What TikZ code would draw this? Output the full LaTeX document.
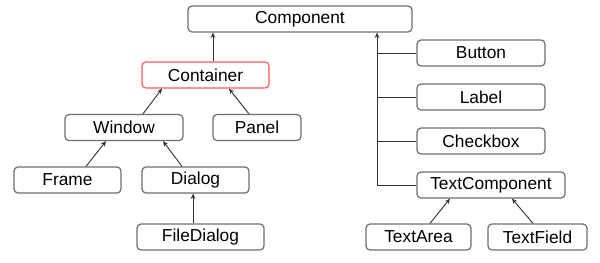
\documentclass[tikz,border=0pt]{standalone}
\usepackage{fontspec}
\setmainfont{Liberation Sans}
\usetikzlibrary{arrows.meta}
\definecolor{boxline}{HTML}{6E6E6E}
\definecolor{conline}{HTML}{333333}
\definecolor{redline}{HTML}{FF5A5A}
\begin{document}
\begin{tikzpicture}[x=0.75pt,y=-0.75pt,
  cls/.style={draw=boxline,line width=0.9pt,rounded corners=3pt,fill=white,
    minimum height=19.5pt,inner sep=0pt,font=\fontsize{13}{15}\selectfont,text=black},
  arr/.style={draw=conline,line width=0.7pt,-{Stealth[length=4pt,width=3.5pt]}},
  ln/.style={draw=conline,line width=0.7pt}]
\useasboundingbox (0,0) rectangle (600,262);
\node[cls,minimum width=168pt] (comp) at (300,19) {Component};
\node[cls,minimum width=95.25pt,draw=redline] (cont) at (205.5,75) {Container};
\node[cls,minimum width=88.5pt] (win) at (124,127.5) {Window};
\node[cls,minimum width=66pt] (pan) at (257,127.5) {Panel};
\node[cls,minimum width=80.25pt] (frm) at (67.5,180) {Frame};
\node[cls,minimum width=80.25pt] (dlg) at (195.5,180) {Dialog};
\node[cls,minimum width=95.25pt] (fd) at (200.5,237) {FileDialog};
\node[cls,minimum width=96pt] (btn) at (481,53) {Button};
\node[cls,minimum width=96pt] (lbl) at (481,97) {Label};
\node[cls,minimum width=96pt] (chk) at (481,141) {Checkbox};
\node[cls,minimum width=111pt] (tc) at (491,185) {TextComponent};
\node[cls,minimum width=78.75pt] (ta) at (418.5,237) {TextArea};
\node[cls,minimum width=74.25pt] (tf) at (537.5,237) {TextField};
% connectors
\draw[arr] ([xshift=5.6pt]cont.north) -- ([xshift=5.6pt]cont.north |- comp.south);
\draw[arr] ([xshift=14.25pt]win.north) -- ([xshift=-32.6pt]cont.south);
\draw[arr] ([xshift=-6pt]pan.north) -- ([xshift=17.6pt]cont.south);
\draw[arr] ([xshift=13.9pt]frm.north) -- ([xshift=-13.5pt]win.south);
\draw[arr] ([xshift=-10.1pt]dlg.north) -- ([xshift=29.25pt]win.south);
\draw[arr] ([xshift=-5.6pt]fd.north) -- ([xshift=-5.6pt]fd.north |- dlg.south);
\draw[arr] ([xshift=8.6pt]ta.north) -- ([xshift=-30.75pt]tc.south);
\draw[arr] ([xshift=-3.4pt]tf.north) -- ([xshift=15.75pt]tc.south);
\coordinate (trunk) at ([xshift=57.75pt]comp.south);
\draw[arr] (tc.west) -| (trunk);
\draw[ln] (btn.west) -- (btn.west -| trunk);
\draw[ln] (lbl.west) -- (lbl.west -| trunk);
\draw[ln] (chk.west) -- (chk.west -| trunk);
\end{tikzpicture}
\end{document}
